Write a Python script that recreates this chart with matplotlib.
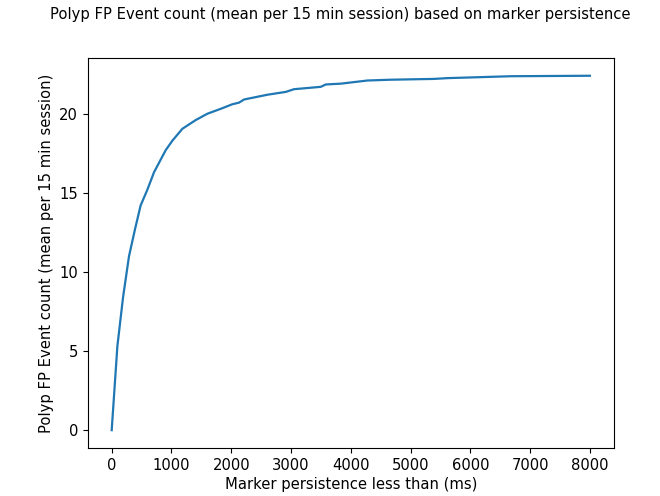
import matplotlib.pyplot as plt
import numpy as np

# marker persistence threshold (ms) and mean FP event count per 15 min session
persistence_ms = [0, 95, 190, 290, 390, 484, 597, 708, 904, 1016, 1183, 1406,
                  1601, 1852, 2019, 2130, 2215, 2410, 2605, 2913, 3050, 3498,
                  3582, 3833, 4280, 4670, 5390, 5618, 6065, 6678, 8000]
fp_count = [0.0, 5.3, 8.4, 11.0, 12.7, 14.2, 15.2, 16.3, 17.7, 18.3, 19.05, 19.6,
            20.0, 20.35, 20.6, 20.7, 20.9, 21.05, 21.2, 21.38, 21.55, 21.7,
            21.85, 21.9, 22.1, 22.15, 22.2, 22.25, 22.3, 22.37, 22.4]

plt.rcParams['font.size'] = 10.6

fig = plt.figure(figsize=(6.6, 4.96), dpi=100)
fig.subplots_adjust(left=0.133, right=0.930, top=0.883, bottom=0.097)
ax = fig.add_subplot(111)

ax.plot(persistence_ms, fp_count, color='#1f77b4', linewidth=1.6)

ax.set_xticks(np.arange(0, 9000, 1000))
ax.set_yticks([0, 5, 10, 15, 20])
ax.set_xlabel('Marker persistence less than (ms)', labelpad=3)
ax.set_ylabel('Polyp FP Event count (mean per 15 min session)')

fig.text(0.516, 1 - 15 / 496, 'Polyp FP Event count (mean per 15 min session) based on marker persistence',
         ha='center', va='center')

fig.savefig('out.png', dpi=100)
